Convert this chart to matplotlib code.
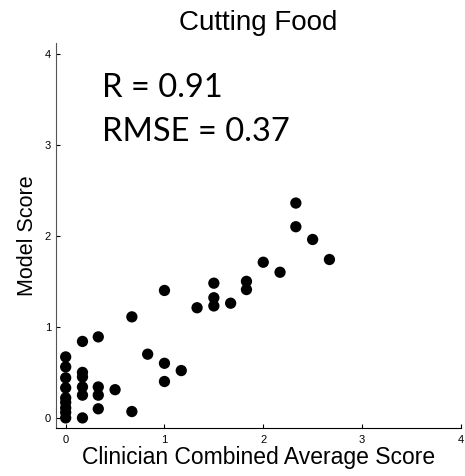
import matplotlib
matplotlib.use("Agg")
import matplotlib.pyplot as plt

# clinician combined average score (x) vs model score (y)
clinician = [0, 0, 0, 0, 0, 0, 0, 0, 0,
             0.17, 0.17, 0.17, 0.17, 0.17, 0.17,
             0.33, 0.33, 0.33, 0.33,
             0.5,
             0.67, 0.67,
             0.83,
             1.0, 1.0, 1.0,
             1.17,
             1.33,
             1.5, 1.5, 1.5,
             1.67,
             1.83, 1.83,
             2.0,
             2.17,
             2.33, 2.33,
             2.5,
             2.67]
model = [0.67, 0.56, 0.44, 0.33, 0.22, 0.17, 0.11, 0.06, 0.0,
         0.84, 0.50, 0.45, 0.34, 0.25, 0.0,
         0.89, 0.34, 0.25, 0.10,
         0.31,
         1.11, 0.07,
         0.70,
         1.40, 0.60, 0.40,
         0.52,
         1.21,
         1.48, 1.32, 1.23,
         1.26,
         1.50, 1.41,
         1.71,
         1.60,
         2.36, 2.10,
         1.96,
         1.74]
ticks = [0, 1, 2, 3, 4]

plt.rcParams['font.family'] = ['Liberation Sans', 'DejaVu Sans']

fig = plt.figure(figsize=(4.65, 4.76), dpi=100)
ax = fig.add_axes([0.120, 0.101, 0.871, 0.809])

ax.scatter(clinician, model, s=66, color='black', edgecolors='none', zorder=3)

ax.set_xlim(-0.1, 4.0)
ax.set_ylim(-0.11, 4.12)
ax.set_xticks(ticks)
ax.set_yticks(ticks)
ax.tick_params(direction='in', length=3, width=0.8, labelsize=8)
ax.tick_params(axis='x', pad=5)

for side in ['top', 'right']:
    ax.spines[side].set_visible(False)
ax.spines['left'].set_color('#555555')
ax.spines['bottom'].set_color('black')

ax.set_title("Cutting Food", fontsize=20, pad=9)
ax.set_xlabel("Clinician Combined Average Score", fontsize=16.5, labelpad=1)
ax.set_ylabel("Model Score", fontsize=15.5, labelpad=5)

ax.text(0.37, 3.62, "R = 0.91", fontsize=23.5, family=['Lato', 'DejaVu Sans'], va='center')
ax.text(0.37, 3.14, "RMSE = 0.37", fontsize=23.5, family=['Lato', 'DejaVu Sans'], va='center')

fig.savefig("out.png", dpi=100)
